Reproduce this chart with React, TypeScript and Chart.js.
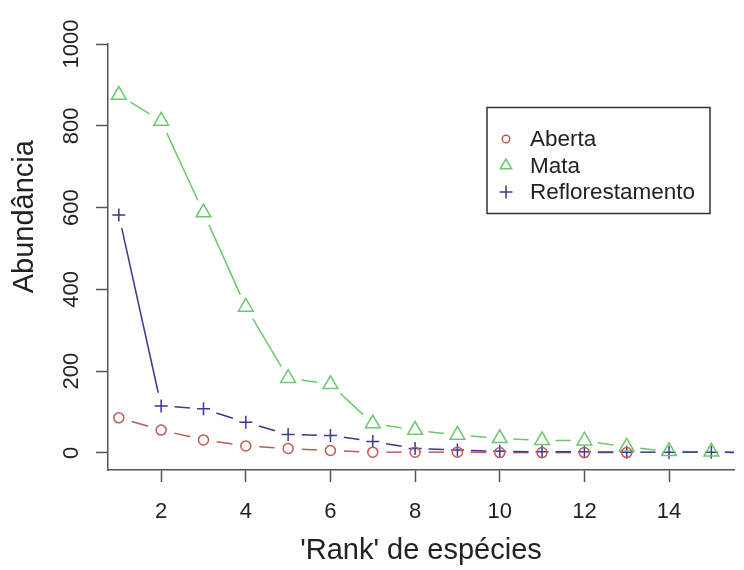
import React, { useEffect, useRef } from "react";
import { Chart, registerables } from "chart.js";
import { drawPoint } from "chart.js/helpers";

Chart.register(...registerables);

// ---- data ----
const ranksAberta = [1, 2, 3, 4, 5, 6, 7, 8, 9, 10, 11, 12, 13];
const aberta = [86, 56, 32, 17, 11, 6, 2, 2, 2, 1, 1, 1, 1];
const ranksMata = [1, 2, 3, 4, 5, 6, 7, 8, 9, 10, 11, 12, 13, 14, 15, 16];
const mata = [875, 812, 588, 357, 183, 168, 72, 56, 44, 36, 31, 30, 15, 4, 3, 2];
const ranksRefl = [1, 2, 3, 4, 5, 6, 7, 8, 9, 10, 11, 12, 13, 14, 15, 16];
const reflorestamento = [582, 115, 108, 75, 45, 43, 28, 11, 7, 4, 3, 3, 2, 2, 2, 1];
const seriesNames = ["Aberta", "Mata", "Reflorestamento"];
const xTicks = [2, 4, 6, 8, 10, 12, 14];
const yTicks = [0, 200, 400, 600, 800, 1000];
const xTitle = "'Rank' de espécies";
const yTitle = "Abundância";

const COLORS = ["#c05a58", "#6cc86c", "#3a3a90"];
const STYLES = ["circle", "triangle", "cross"];
const RADII = [5, 8.5, 6.5];
const LEGEND_RADII = [3.8, 6.5, 6.5];
const GAP = 13.5;
const FONT = "'Liberation Sans', Arial, sans-serif";

const gapLines = {
  id: "gapLines",
  beforeDatasetsDraw(chart: any) {
    const { ctx, chartArea } = chart;
    ctx.save();
    ctx.beginPath();
    ctx.rect(chartArea.left, chartArea.top, chartArea.right - chartArea.left, chartArea.bottom - chartArea.top);
    ctx.clip();
    chart.data.datasets.forEach((ds: any, i: number) => {
      const meta = chart.getDatasetMeta(i);
      ctx.strokeStyle = ds.borderColor;
      ctx.lineWidth = 1.5;
      const pts = meta.data;
      for (let k = 0; k < pts.length - 1; k++) {
        const a = pts[k];
        const b = pts[k + 1];
        const dx = b.x - a.x;
        const dy = b.y - a.y;
        const d = Math.hypot(dx, dy);
        if (d <= 2 * GAP) continue;
        const ux = dx / d;
        const uy = dy / d;
        ctx.beginPath();
        ctx.moveTo(a.x + ux * GAP, a.y + uy * GAP);
        ctx.lineTo(b.x - ux * GAP, b.y - uy * GAP);
        ctx.stroke();
      }
    });
    ctx.restore();
  },
};

const boxLegend = {
  id: "boxLegend",
  afterDraw(chart: any) {
    const { ctx } = chart;
    ctx.save();
    ctx.strokeStyle = "#333";
    ctx.lineWidth = 1.5;
    ctx.strokeRect(487, 107.5, 223, 106);
    ctx.font = `22.5px ${FONT}`;
    ctx.textBaseline = "middle";
    ctx.textAlign = "left";
    const rowY = [139, 165.5, 192];
    chart.data.datasets.forEach((ds: any, i: number) => {
      ctx.strokeStyle = ds.borderColor;
      ctx.fillStyle = "rgba(0,0,0,0)";
      ctx.lineWidth = 1.5;
      drawPoint(ctx, { pointStyle: STYLES[i], radius: LEGEND_RADII[i], rotation: 0, borderWidth: 1.5 } as any, 506, rowY[i]);
      ctx.fillStyle = "#222";
      ctx.fillText(ds.label, 530, rowY[i] + 1);
    });
    ctx.restore();
  },
};

function toPts(xs: number[], ys: number[]) {
  return ys.map((v, i) => ({ x: xs[i], y: v }));
}

export default function App() {
  const ref = useRef<HTMLCanvasElement | null>(null);
  useEffect(() => {
    if (!ref.current) return;
    Chart.defaults.font.family = FONT;
    const data = [toPts(ranksAberta, aberta), toPts(ranksMata, mata), toPts(ranksRefl, reflorestamento)];
    const chart = new Chart(ref.current, {
      type: "line",
      data: {
        datasets: seriesNames.map((name, i) => ({
          label: name,
          data: data[i],
          showLine: false,
          borderColor: COLORS[i],
          pointBorderColor: COLORS[i],
          pointBackgroundColor: "rgba(0,0,0,0)",
          pointStyle: STYLES[i] as any,
          pointRadius: RADII[i],
          pointBorderWidth: 1.5,
        })),
      },
      options: {
        animation: false,
        responsive: false,
        devicePixelRatio: 1,
        layout: { padding: { top: 44, left: 0, right: 0, bottom: 0 } },
        plugins: { legend: { display: false }, tooltip: { enabled: false } },
        scales: {
          x: {
            type: "linear",
            min: 0.744,
            max: 15.535,
            afterFit: (s: any) => { s.height = 100; },
            afterBuildTicks: (s: any) => { s.ticks = xTicks.map((v) => ({ value: v })); },
            border: { display: true, color: "#555", width: 1.5 },
            grid: { display: true, drawOnChartArea: false, drawTicks: true, tickLength: 12, tickColor: "#555", tickWidth: 1.5 },
            ticks: { autoSkip: false, padding: 17, color: "#222", font: { size: 22 }, maxRotation: 0, callback: (v: any) => String(v) },
            title: { display: true, text: xTitle, color: "#222", font: { size: 29 }, padding: { top: 0, bottom: 2 } },
          },
          y: {
            type: "linear",
            min: -41.6,
            max: 1000,
            afterFit: (s: any) => { s.width = 108; },
            afterBuildTicks: (s: any) => { s.ticks = yTicks.map((v) => ({ value: v })); },
            border: { display: true, color: "#555", width: 1.5 },
            grid: { display: true, drawOnChartArea: false, drawTicks: true, tickLength: 12, tickColor: "#555", tickWidth: 1.5 },
            ticks: { autoSkip: false, padding: 0, color: "#222", font: { size: 22 }, minRotation: 90, maxRotation: 90, crossAlign: "center", callback: (v: any) => String(v) },
            title: { display: true, text: "          " + yTitle, color: "#222", font: { size: 29 }, padding: { top: 8, bottom: 0 } },
          },
        },
      },
      plugins: [gapLines, boxLegend],
    });
    return () => chart.destroy();
  }, []);
  return (
    <div style={{ position: "fixed", left: 0, top: 0, width: 744, height: 570, background: "#fff" }}>
      <canvas ref={ref} width={744} height={570} style={{ width: 744, height: 570, display: "block" }} />
    </div>
  );
}
